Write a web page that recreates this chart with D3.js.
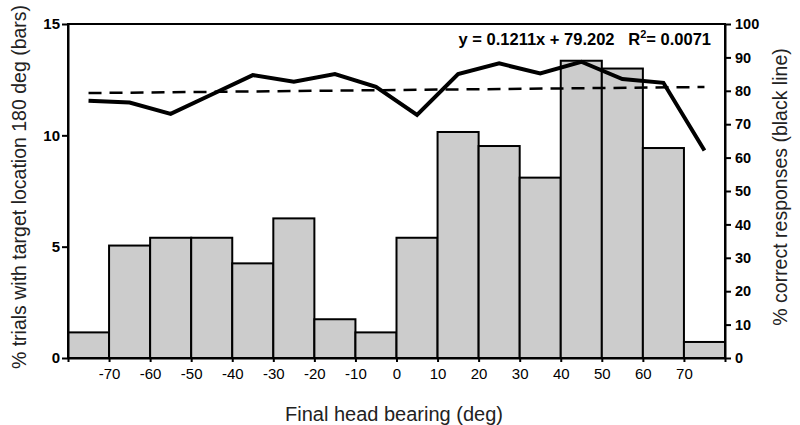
<!DOCTYPE html>
<html>
<head>
<meta charset="utf-8">
<script src="https://cdn.jsdelivr.net/npm/d3@7"></script>
<style>
  html, body { margin: 0; padding: 0; background: #fff; }
  svg { display: block; font-family: "Liberation Sans", Arial, sans-serif; }
</style>
</head>
<body>
<svg id="chart" width="800" height="425"></svg>
<script>
// ---- data ----
const binCenters = [-75, -65, -55, -45, -35, -25, -15, -5, 5, 15, 25, 35, 45, 55, 65, 75];
const barValues = [1.15, 5.05, 5.4, 5.4, 4.25, 6.27, 1.74, 1.15, 5.4, 10.15, 9.52, 8.1, 13.35, 13.0, 9.43, 0.72];
const lineValues = [77.0, 76.5, 73.1, 78.9, 84.7, 82.7, 85.0, 81.2, 72.8, 85.0, 88.2, 85.2, 88.7, 83.5, 82.4, 62.1];
const xTicks = [-70, -60, -50, -40, -30, -20, -10, 0, 10, 20, 30, 40, 50, 60, 70];
const leftTicks = [0, 5, 10, 15];
const rightTicks = [0, 10, 20, 30, 40, 50, 60, 70, 80, 90, 100];
const trendSlope = 0.1211, trendIntercept = 79.202;
const equationText = "y = 0.1211x + 79.202";
const binWidth = 10;

// ---- layout ----
const svg = d3.select("#chart");
const L = 68, R = 725, T = 24, B = 358;

const x = d3.scaleLinear().domain([-80, 80]).range([L, R]);
const yL = d3.scaleLinear().domain([0, 15]).range([B, T]);
const yR = d3.scaleLinear().domain([0, 100]).range([B, T]);

// bars
svg.append("g").selectAll("rect").data(binCenters).join("rect")
  .attr("x", d => x(d - binWidth / 2))
  .attr("width", d => x(d + binWidth / 2) - x(d - binWidth / 2))
  .attr("y", (d, i) => yL(barValues[i]))
  .attr("height", (d, i) => yL(0) - yL(barValues[i]))
  .attr("fill", "#cccccc")
  .attr("stroke", "#000")
  .attr("stroke-width", 2);

// frame
svg.append("rect").attr("x", L).attr("y", T).attr("width", R - L).attr("height", B - T)
  .attr("fill", "none").attr("stroke", "#000").attr("stroke-width", 2);

// trend line (x = bin index 1..16)
const trendPts = binCenters.map((c, i) => [c, trendSlope * (i + 1) + trendIntercept]);
svg.append("path")
  .datum([trendPts[0], trendPts[trendPts.length - 1]])
  .attr("d", d3.line().x(d => x(d[0])).y(d => yR(d[1])))
  .attr("fill", "none").attr("stroke", "#000").attr("stroke-width", 2.5)
  .attr("stroke-dasharray", "13,8");

// black line
svg.append("path")
  .datum(binCenters.map((c, i) => [c, lineValues[i]]))
  .attr("d", d3.line().x(d => x(d[0])).y(d => yR(d[1])))
  .attr("fill", "none").attr("stroke", "#000").attr("stroke-width", 4)
  .attr("stroke-linejoin", "miter");

// axes
const xAxis = svg.append("g").attr("transform", `translate(0,${B})`)
  .call(d3.axisBottom(x).tickValues([-80, ...xTicks, 80]).tickSize(4).tickSizeOuter(0)
    .tickFormat(d => xTicks.includes(d) ? d : ""));
xAxis.select(".domain").attr("stroke-width", 2);
xAxis.selectAll(".tick line").attr("stroke-width", 2);
xAxis.selectAll(".tick text").attr("font-size", 15).attr("fill", "#000")
  .attr("font-family", "Liberation Sans, Arial, sans-serif").attr("dy", "0.95em");

const lAxis = svg.append("g").attr("transform", `translate(${L},0)`)
  .call(d3.axisLeft(yL).tickValues(leftTicks).tickSize(6).tickSizeOuter(0));
lAxis.select(".domain").attr("stroke-width", 2);
lAxis.selectAll(".tick line").attr("stroke-width", 2);
lAxis.selectAll(".tick text").attr("font-size", 15).attr("font-weight", "bold").attr("fill", "#000")
  .attr("font-family", "Liberation Sans, Arial, sans-serif").attr("x", -8);

const rAxis = svg.append("g").attr("transform", `translate(${R},0)`)
  .call(d3.axisRight(yR).tickValues(rightTicks).tickSize(6).tickSizeOuter(0));
rAxis.select(".domain").attr("stroke-width", 2);
rAxis.selectAll(".tick line").attr("stroke-width", 2);
rAxis.selectAll(".tick text").attr("font-size", 14.5).attr("font-weight", "bold").attr("fill", "#000")
  .attr("font-family", "Liberation Sans, Arial, sans-serif").attr("x", 10);

// equation
svg.append("text").attr("x", 711).attr("y", 45).attr("text-anchor", "end")
  .attr("font-size", 16.5).attr("font-weight", "bold").attr("fill", "#000")
  .style("white-space", "pre")
  .call(t => {
    t.append("tspan").text(equationText + "   R");
    t.append("tspan").attr("dy", -7).attr("font-size", 11).text("2");
    t.append("tspan").attr("dy", 7).text("= 0.0071");
  });

// axis titles
svg.append("text").attr("x", 394).attr("y", 421).attr("text-anchor", "middle")
  .attr("font-size", 20).attr("fill", "#222").text("Final head bearing (deg)");

svg.append("text").attr("transform", "translate(26,187) rotate(-90)")
  .attr("text-anchor", "middle").attr("font-size", 19.5).attr("fill", "#222")
  .text("% trials with target location 180 deg (bars)");

svg.append("text").attr("transform", "translate(787,187) rotate(-90)")
  .attr("text-anchor", "middle").attr("font-size", 19.5).attr("fill", "#222")
  .text("% correct responses (black line)");
</script>
</body>
</html>
